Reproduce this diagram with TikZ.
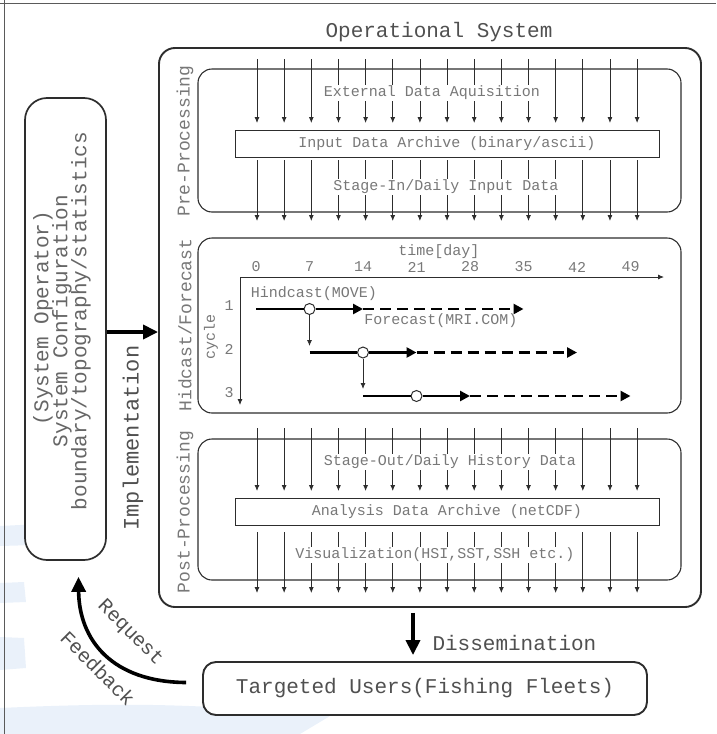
\documentclass[tikz,border=0pt]{standalone}
\usepackage{fontspec}
\setmainfont{Liberation Mono}
\setmonofont{Liberation Mono}
\usepackage{tikz}
\usetikzlibrary{arrows.meta,positioning,calc}
\definecolor{osedge}{RGB}{45,45,45}
\definecolor{osink}{RGB}{120,120,120}
\definecolor{ostitle}{RGB}{80,80,80}
\definecolor{osframe}{RGB}{90,90,90}
\definecolor{oswash}{RGB}{234,241,250}
\tikzset{
  opsbox/.style={draw=osedge, line width=1.9pt, rounded corners=16pt, inner sep=0pt},
  stagebox/.style={draw=osedge, line width=1.1pt, rounded corners=14pt, inner sep=0pt},
  userbox/.style={draw=osedge, line width=1.9pt, rounded corners=13pt, fill=white,
    font=\fontsize{21}{21}\selectfont, text=ostitle},
  cfgbox/.style={draw=osedge, line width=1.7pt, rounded corners=22pt, fill=white,
    inner sep=0pt},
  archive/.style={draw=osedge, line width=1pt, fill=white, inner sep=0pt,
    minimum width=424pt, minimum height=27pt,
    font=\fontsize{15}{15}\selectfont, text=osink},
  lbl/.style={font=\fontsize{15}{15}\selectfont, text=osink, inner sep=1pt},
  cover/.style={lbl, fill=white, inner sep=1.5pt},
  big/.style={font=\fontsize{22}{20}\selectfont, text=ostitle, align=center},
  cfgline/.style={big, font=\fontsize{21}{21}\selectfont, text=osink!85!black,
    rotate=90, inner sep=0pt},
  side/.style={font=\fontsize{18}{18}\selectfont, text=osink, rotate=90},
  col/.style={-{Latex[length=6pt,width=5pt]}, draw=osedge, line width=0.8pt},
  fat/.style={-{Triangle[length=15pt,width=14pt]}, draw=black, line width=3.6pt},
  run/.style={draw=black, line width=2.6pt},
  runarr/.style={run, -{Triangle[length=10pt,width=10pt]}},
  fcst/.style={runarr, dashed, dash pattern=on 11pt off 6pt},
  hub/.style={circle, draw=osedge, fill=white, line width=1pt,
    minimum size=11pt, inner sep=0pt},
  frame/.style={draw=osframe, line width=1pt}
}

\begin{document}
\begin{tikzpicture}[x=1pt,y=-1pt]
  \useasboundingbox (0,0) rectangle (716,734);
  % faint background wash
  \fill[oswash] (0,526) -- (40,524) to[bend left=10] (70,530) -- (70,544) -- (0,546) -- cycle;
  \fill[oswash] (0,583) -- (24,582) -- (26,602) -- (0,603) -- cycle;
  \fill[oswash] (0,637) -- (24,638) -- (26,668) -- (0,670) -- cycle;
  \fill[oswash] (0,708) to[bend left=4] (330,716) -- (300,734) -- (0,734) -- cycle;
  \draw[frame] (0,3) -- (716,3);
  \draw[frame] (4,0) -- (4,734);

  % operational system
  \node[opsbox, minimum width=542pt, minimum height=559pt] (ops) at (430,327.5) {};
  \node[big, font=\fontsize{21}{21}\selectfont] (opstitle) at (439,32) {Operational System};
  \node[stagebox, minimum width=483pt, minimum height=143pt] (pre) at (439.5,140.5) {};
  \node[stagebox, minimum width=483pt, minimum height=175pt] (hind) at (439.5,325.5) {};
  \node[stagebox, minimum width=483pt, minimum height=141pt] (post) at (439.5,509.5) {};
  \node[side] (prelbl) at (185,141) {Pre-Processing};
  \node[side] (hindlbl) at (185,325) {Hidcast/Forecast};
  \node[side] (postlbl) at (185,512) {Post-Processing};

  % pre-processing
  \foreach \i in {0,...,14} {
    \pgfmathsetmacro\x{257+27.15*\i}
    \draw[col] (\x,59) -- (\x,123);
    \draw[col] (\x,160) -- (\x,221);
  }
  \node[cover] (extacq) at (432,93) {External Data Aquisition};
  \node[archive] (inarc) at (447,143.5) {Input Data Archive (binary/ascii)};
  \node[cover] (stagein) at (446,187) {Stage-In/Daily Input Data};

  % post-processing
  \foreach \i in {0,...,14} {
    \pgfmathsetmacro\x{257+27.15*\i}
    \draw[col] (\x,428) -- (\x,491);
    \draw[col] (\x,532) -- (\x,593);
  }
  \node[cover] (stageout) at (450,462) {Stage-Out/Daily History Data};
  \node[archive] (anarc) at (447,512) {Analysis Data Archive (netCDF)};
  \node[cover] (visu) at (435,555) {Visualization(HSI,SST,SSH etc.)};

  % hindcast / forecast cycles
  \coordinate (t0) at (240,277);
  \draw[col] (t0) -- (664,277);
  \draw[col] (t0) -- (240,405);
  \node[lbl] (tday) at (439,252) {time[day]};
  \foreach \d in {0,7,...,49}
    \node[lbl] at ({256+7.643*\d},267) {\d};
  \node[lbl, rotate=90] (cyc) at (211,337) {cycle};
  \foreach \k/\y in {1/309,2/352.5,3/396} {
    \node[lbl] at (229,\y-3) {\k};
    \pgfmathsetmacro\xa{256+7.643*7*(\k-1)}
    \pgfmathsetmacro\xb{256+7.643*7*\k}
    \pgfmathsetmacro\xc{256+7.643*7*(\k+1)}
    \pgfmathsetmacro\xe{256+7.643*7*(\k+4)}
    \node[hub] (h\k) at (\xb,\y) {};
    \draw[run] (\xa,\y) -- (h\k);
    \draw[runarr] (h\k) -- (\xc,\y);
    \draw[fcst] (\xc,\y) -- (\xe,\y);
  }
  \draw[col] (h1.south) -- (h1.south |- 0,346);
  \draw[col] (h2.south) -- (h2.south |- 0,389);
  \node[lbl] (hcst) at (314,294) {Hindcast(MOVE)};
  \node[lbl] (fcstlbl) at (441,321) {Forecast(MRI.COM)};

  % system configuration and users
  \node[cfgbox, minimum width=81pt, minimum height=462pt] (cfg) at (65.5,329) {};
  \node[cfgline] (cfgop) at (43,318) {(System Operator)};
  \node[cfgline] (cfgconf) at (62,321) {System Configuration};
  \node[cfgline] (cfgdata) at (81,321) {boundary/topography/statistics};
  \draw[fat] (cfg.east |- 0,332) -- (ops.west |- 0,332);
  \node[big, rotate=90] (impl) at (133,438) {Implementation};

  \node[userbox, minimum width=444pt, minimum height=53pt] (users) at (425,688.5) {Targeted Users(Fishing Fleets)};
  \draw[fat] ($(ops.south)+(-17,5)$) -- ($(users.north)+(-12,-6)$);
  \node[big, font=\fontsize{21}{21}\selectfont, anchor=west] (dissem) at (429,643) {Dissemination};
  \draw[fat] ($(users.west)+(-16,-6)$) .. controls (112,682) and (79,640) .. ($(cfg.south)+(13,16)$);
  \node[big, font=\fontsize{20}{20}\selectfont, rotate=-45] (req) at (130,633) {Request};
  \node[big, font=\fontsize{20}{20}\selectfont, rotate=-45] (fback) at (98,668) {Feedback};
\end{tikzpicture}
\end{document}
